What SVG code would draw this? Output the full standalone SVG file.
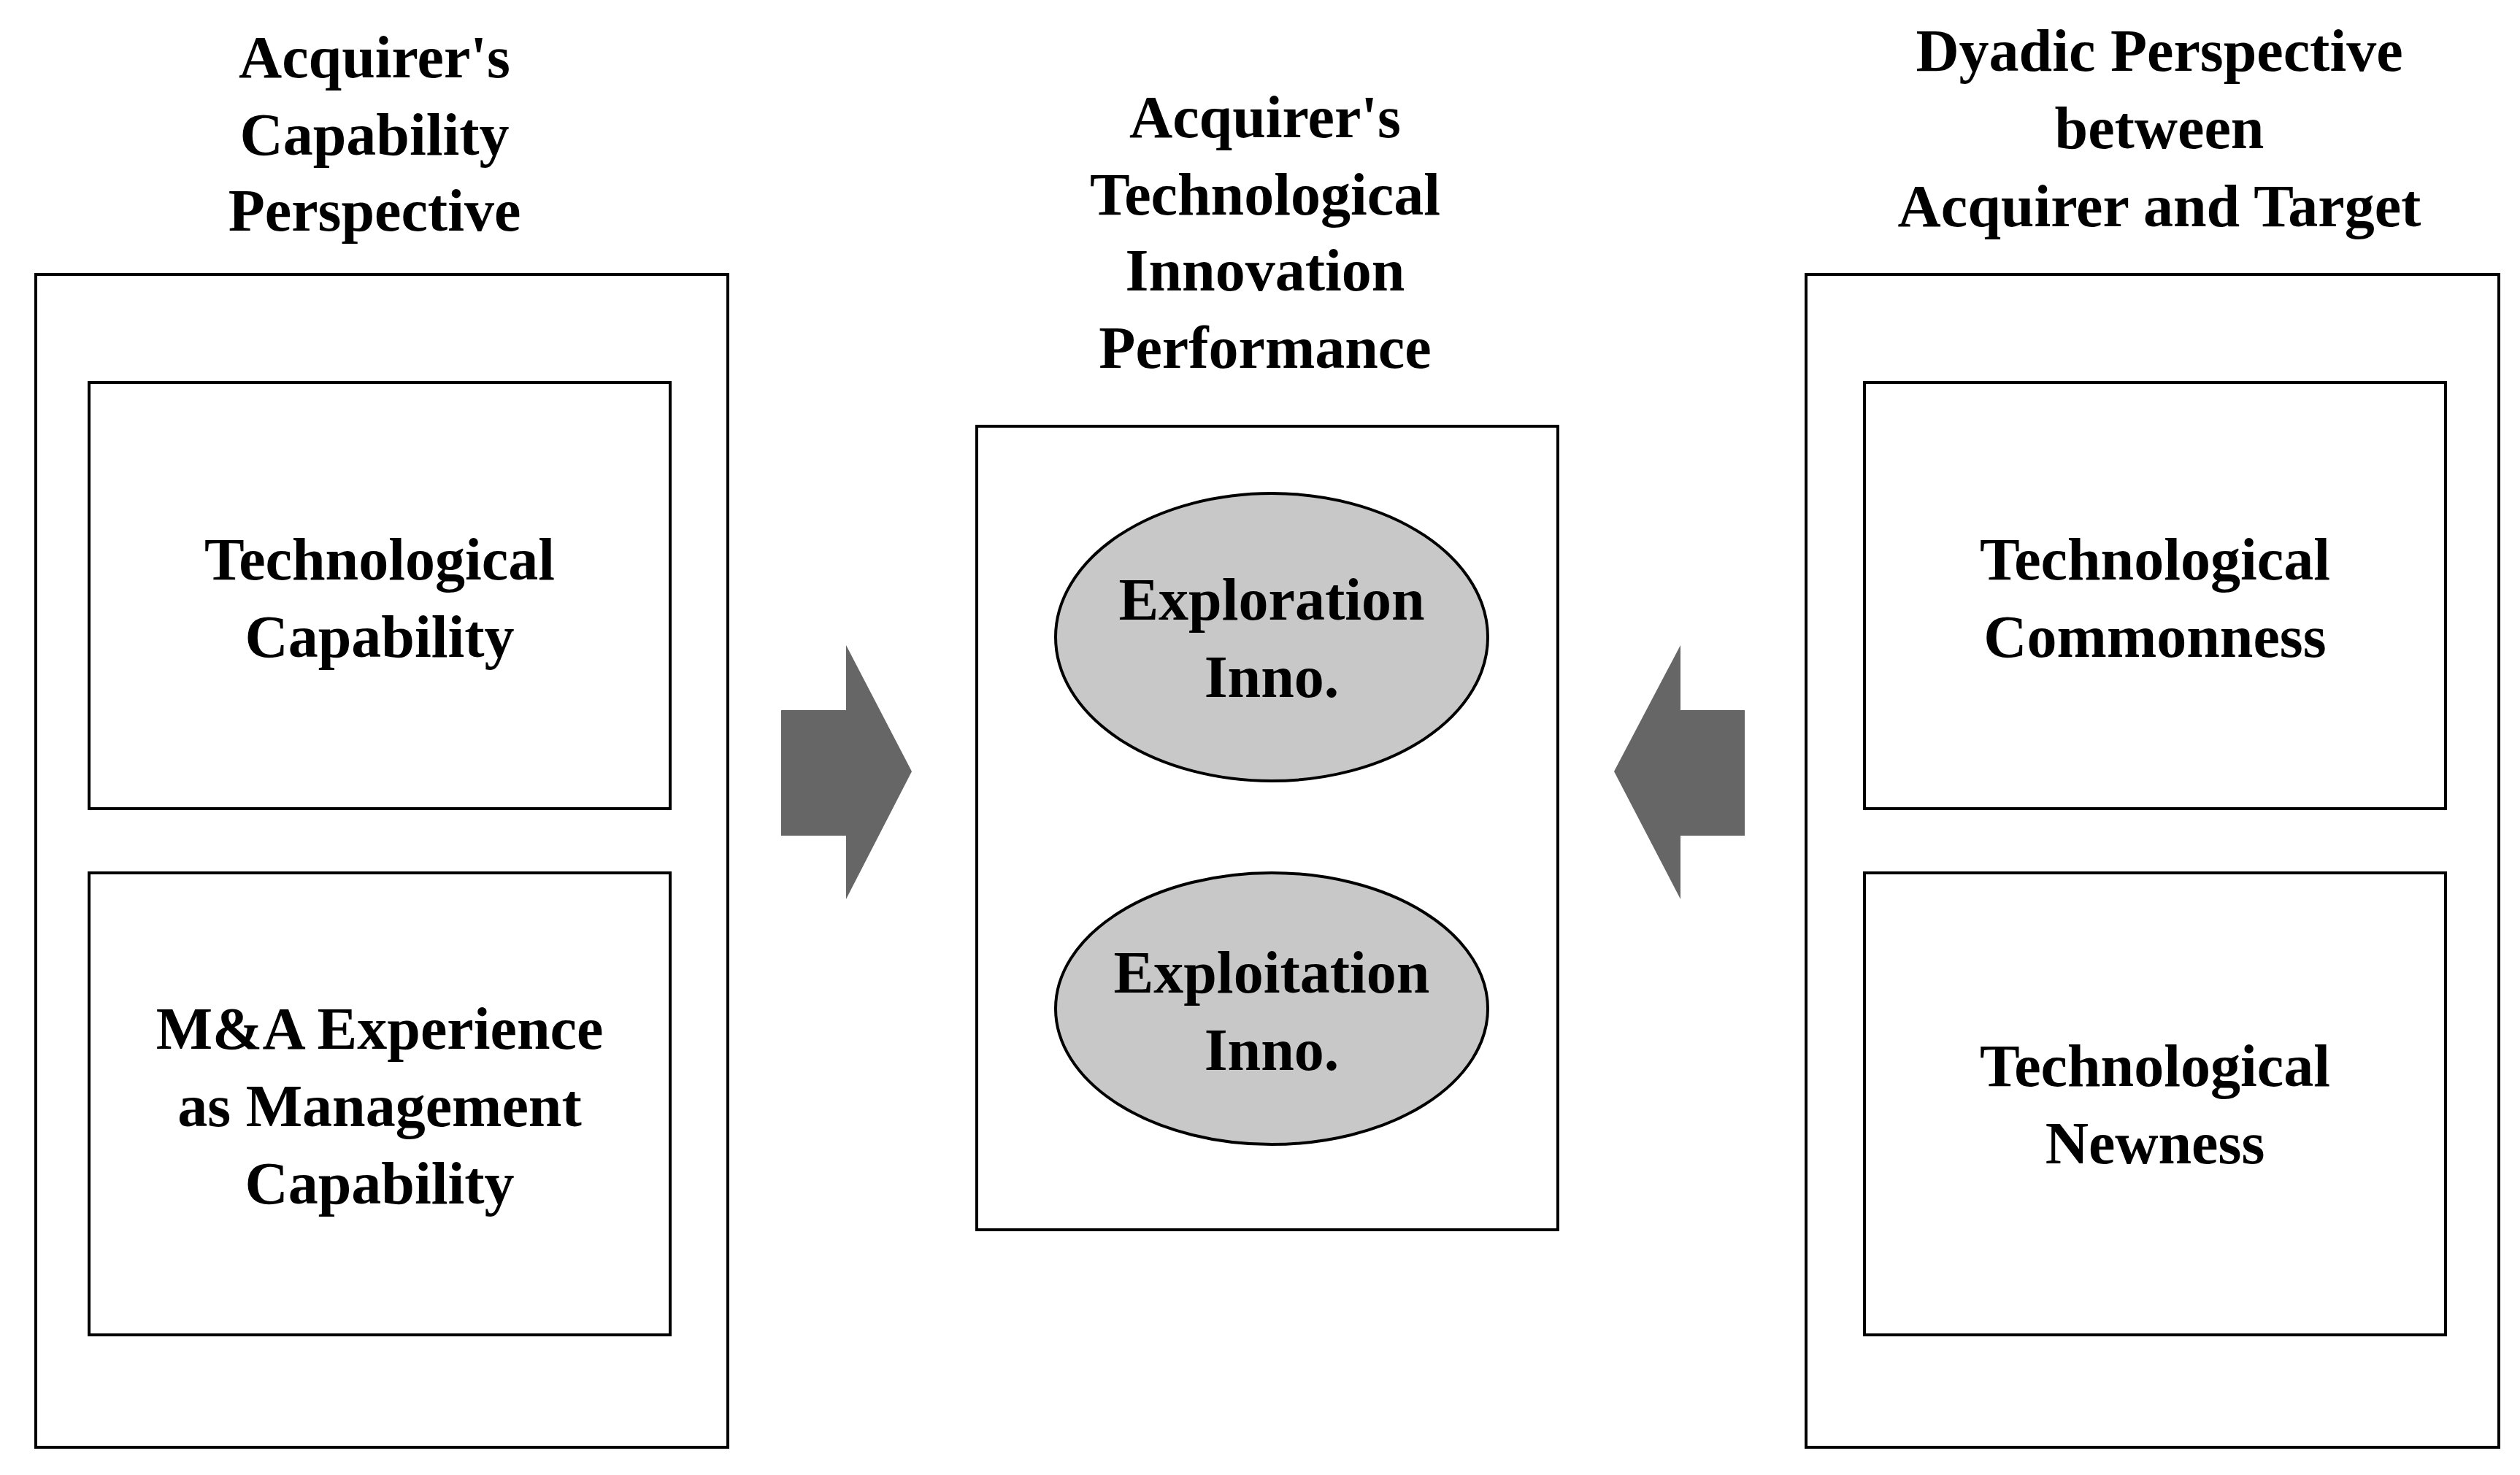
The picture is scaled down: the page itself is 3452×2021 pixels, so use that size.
<svg xmlns="http://www.w3.org/2000/svg" width="3452" height="2021" viewBox="0 0 3452 2021">
<style>
text{font-family:"Liberation Serif","DejaVu Serif",serif;font-weight:bold;font-size:82px;text-anchor:middle;fill:#000}
.b{fill:#fff;stroke:#000;stroke-width:4}
.e{fill:#c8c8c8;stroke:#000;stroke-width:4}
.a{fill:#666}
</style>
<rect width="3452" height="2021" fill="#fff"/>
<g id="left">
<text x="513" y="106">Acquirer's</text><text x="513" y="212">Capability</text><text x="513" y="316">Perspective</text>
<rect class="b" x="49" y="376" width="948" height="1607"/>
</g>
<g id="techcap"><rect class="b" x="122" y="524" width="796" height="584"/>
<text x="520" y="794">Technological</text><text x="520" y="900">Capability</text></g>
<g id="mna"><rect class="b" x="122" y="1196" width="796" height="633"/>
<text x="520" y="1437">M&amp;A Experience</text><text x="520" y="1543">as Management</text><text x="520" y="1649">Capability</text></g>
<g id="center">
<text x="1733" y="188">Acquirer's</text><text x="1733" y="294">Technological</text><text x="1733" y="398">Innovation</text><text x="1733" y="504">Performance</text>
<rect class="b" x="1338" y="584" width="796" height="1101"/>
</g>
<g id="explor"><ellipse class="e" cx="1742" cy="873" rx="296" ry="197"/>
<text x="1742" y="849">Exploration</text><text x="1742" y="955">Inno.</text></g>
<g id="exploit"><ellipse class="e" cx="1742" cy="1382" rx="296" ry="186"/>
<text x="1742" y="1360">Exploitation</text><text x="1742" y="1466">Inno.</text></g>
<g id="right">
<text x="2958" y="97">Dyadic Perspective</text><text x="2958" y="203">between</text><text x="2958" y="310">Acquirer and Target</text>
<rect class="b" x="2474" y="376" width="949" height="1607"/>
</g>
<g id="common"><rect class="b" x="2554" y="524" width="796" height="584"/>
<text x="2952" y="794">Technological</text><text x="2952" y="900">Commonness</text></g>
<g id="newness"><rect class="b" x="2554" y="1196" width="796" height="633"/>
<text x="2952" y="1488">Technological</text><text x="2952" y="1594">Newness</text></g>
<g id="connectors">
<polygon class="a" points="1070,973 1159,973 1159,884 1249,1057 1159,1232 1159,1145 1070,1145"/>
<polygon class="a" points="2390,973 2302,973 2302,884 2211,1057 2302,1232 2302,1145 2390,1145"/>
</g>
</svg>
